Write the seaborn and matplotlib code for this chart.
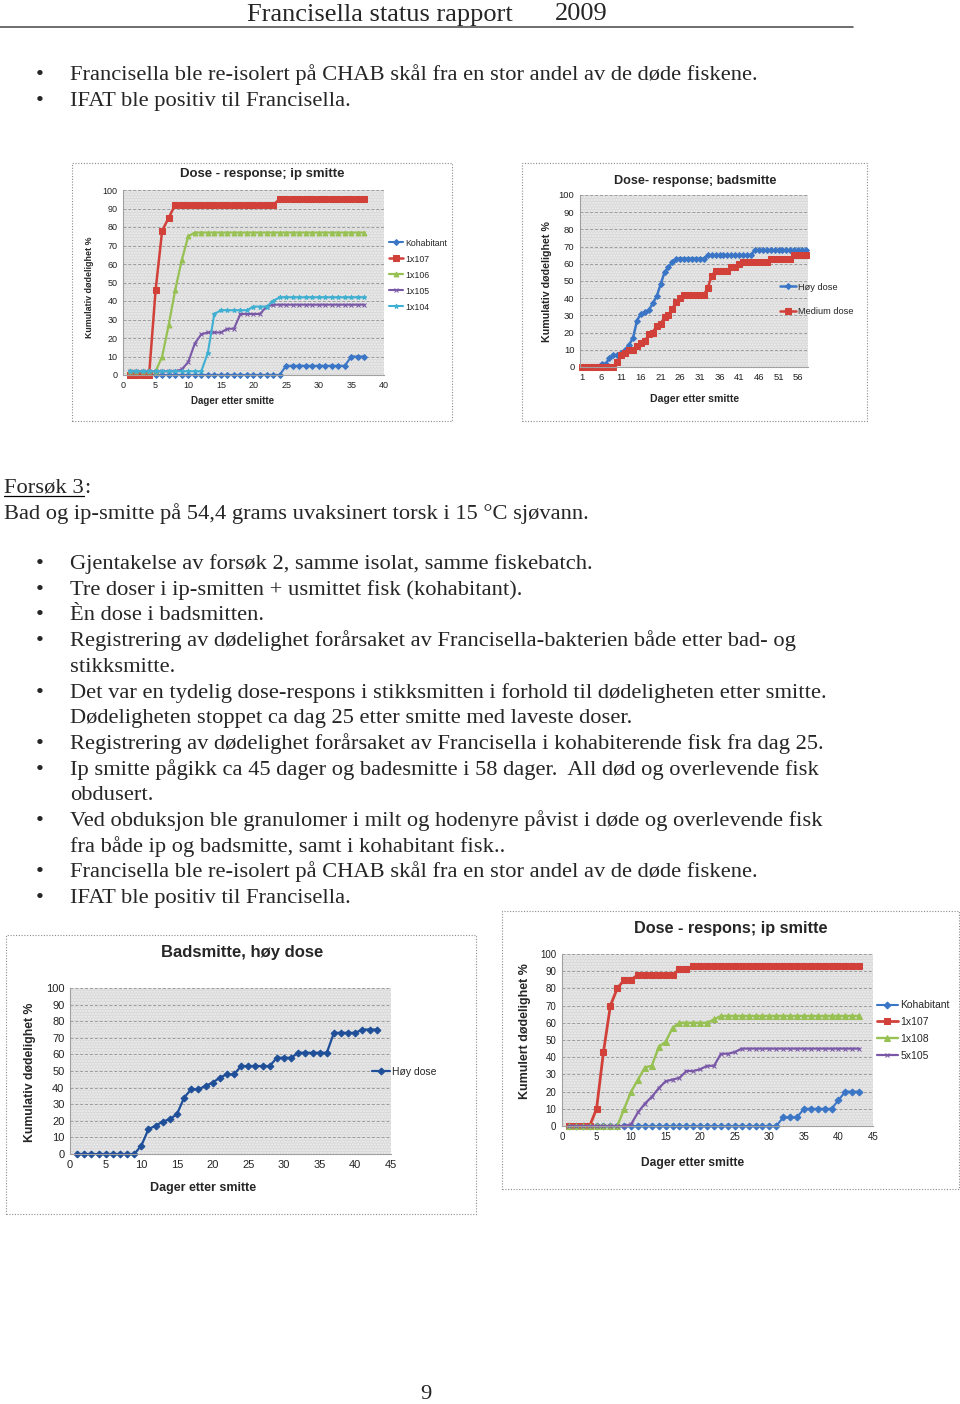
import matplotlib
matplotlib.use("Agg")
import matplotlib.pyplot as plt
from matplotlib.patches import Rectangle
from matplotlib.lines import Line2D
import seaborn as sns

W, H = 960, 1404

# ----------------------------
# data
# ----------------------------
# chart 1: Dose - response; ip smitte (day 1-37)
dag_ip1 = list(range(1, 38))
ip1_kohabitant = [0] * 24 + [5] * 10 + [10] * 3
ip1_1x107 = [0, 0, 0, 0, 46, 78, 85] + [92] * 16 + [95] * 14
ip1_1x106 = [2, 2, 2, 2, 2, 10, 27, 46, 62, 75] + [77] * 27
ip1_1x105 = [2, 2, 2, 2, 2, 2, 2, 2, 3, 7, 17, 22, 23, 23, 23, 25, 25, 33, 33, 33, 33, 37] + [38] * 15
ip1_1x104 = [2] * 12 + [12, 33, 35, 35, 35, 35, 35, 37, 37, 37, 40] + [42] * 14

# chart 2: Dose- response; badsmitte (day 1-58, category axis)
dag_bad = list(range(1, 59))
bad_hoy = [0, 0, 0, 0, 0, 2, 2, 5, 7, 7, 8, 10, 13, 17, 27, 31, 32, 33, 37, 41, 48, 55, 58, 61, 63] \
    + [63] * 7 + [65] * 12 + [68] * 14
bad_medium = [0] * 9 + [3, 7, 8, 10, 10, 12, 14, 15, 19, 20, 24, 25, 29, 30, 34, 38, 40, 42] \
    + [42] * 5 + [46, 53, 56, 56, 56, 56, 58, 58, 60] + [61] * 7 + [63] * 6 + [65] * 4
bad_ticks = [1, 6, 11, 16, 21, 26, 31, 36, 41, 46, 51, 56]

# chart 3: Badsmitte, høy dose (day 1-43)
dag_bad2 = list(range(1, 44))
bad2_hoy = [0] * 9 + [5, 15, 17, 19.5, 21, 24, 34, 39, 39, 41, 43, 46, 48, 48,
                      53, 53, 53, 53, 53, 58, 58, 58, 61, 61, 61, 61, 61,
                      73, 73, 73, 73, 75, 75, 75]

# chart 4: Dose - respons; ip smitte (day 1-43)
dag_ip2 = list(range(1, 44))
ip2_kohabitant = [0] * 31 + [5, 5, 5, 10, 10, 10, 10, 10, 15, 20, 20, 20]
ip2_1x107 = [0, 0, 0, 0, 10, 43, 70, 80, 85, 85] + [88] * 6 + [91, 91] + [93] * 25
ip2_1x108 = [0] * 8 + [10, 20, 27, 34, 35, 46, 49, 57, 60, 60, 60, 60, 60, 62] + [64] * 21
ip2_5x105 = [0] * 9 + [1, 8, 13, 17, 22, 26, 27, 28, 32, 32, 33, 35, 35, 42, 42, 43, 45] + [45] * 17

# page text
header_title = "Francisella status rapport"
header_year = "2009"
top_bullets = ["Francisella ble re-isolert på CHAB skål fra en stor andel av de døde fiskene.",
               "IFAT ble positiv til Francisella."]
section_head = "Forsøk 3"
section_intro = "Bad og ip-smitte på 54,4 grams uvaksinert torsk i 15 °C sjøvann."
bullets = [
    ["Gjentakelse av forsøk 2, samme isolat, samme fiskebatch."],
    ["Tre doser i ip-smitten + usmittet fisk (kohabitant)."],
    ["Èn dose i badsmitten."],
    ["Registrering av dødelighet forårsaket av Francisella-bakterien både etter bad- og",
     "stikksmitte."],
    ["Det var en tydelig dose-respons i stikksmitten i forhold til dødeligheten etter smitte.",
     "Dødeligheten stoppet ca dag 25 etter smitte med laveste doser."],
    ["Registrering av dødelighet forårsaket av Francisella i kohabiterende fisk fra dag 25."],
    ["Ip smitte pågikk ca 45 dager og badesmitte i 58 dager.  All død og overlevende fisk",
     "obdusert."],
    ["Ved obduksjon ble granulomer i milt og hodenyre påvist i døde og overlevende fisk",
     "fra både ip og badsmitte, samt i kohabitant fisk.."],
    ["Francisella ble re-isolert på CHAB skål fra en stor andel av de døde fiskene."],
    ["IFAT ble positiv til Francisella."],
]

BLUE = "#3b76c6"
RED = "#d2403a"
GREEN = "#97c152"
PURPLE = "#7a58a8"
CYAN = "#3fb0d2"
NAVY = "#1f4f99"

sns.set_style("white")
plt.rcParams["font.family"] = ["Liberation Sans", "DejaVu Sans"]
SERIF = ["Liberation Serif", "DejaVu Serif"]

fig = plt.figure(figsize=(W / 100, H / 100), dpi=100)


def ftext(x, y, s, **kw):
    return fig.text(x / W, 1 - y / H, s, **kw)


def px_axes(l, t, r, b):
    return fig.add_axes([l / W, 1 - b / H, (r - l) / W, (b - t) / H])


def frame(l, t, r, b):
    fig.add_artist(Rectangle((l / W, 1 - b / H), (r - l) / W, (b - t) / H,
                             transform=fig.transFigure, fill=False,
                             ls=(0, (1, 1.5)), lw=0.8, ec="#8c8c8c"))


def style_ax(ax, xlim, xticks, tick_fs):
    ax.set_facecolor("#d9d9d9")
    ax.add_patch(Rectangle((0, 0), 1, 1, transform=ax.transAxes, fill=False,
                           hatch="......", ec="#f0f0f0", lw=0, zorder=0))
    ax.set_xlim(*xlim)
    ax.set_ylim(0, 100)
    ax.set_yticks(range(0, 101, 10))
    ax.set_xticks(xticks)
    ax.yaxis.grid(True, color="#9c9c9c", lw=0.7, ls=(0, (3, 2)))
    ax.xaxis.grid(False)
    ax.set_axisbelow(True)
    for s in ["top", "right"]:
        ax.spines[s].set_visible(False)
    for s in ["left", "bottom"]:
        ax.spines[s].set_color("#a0a0a0")
        ax.spines[s].set_linewidth(0.8)
    ax.tick_params(labelsize=tick_fs, colors="#a0a0a0", labelcolor="#222222",
                   length=2, width=0.6, pad=2)
    ax.set(xlabel="", ylabel="")


def series(ax, x, y, color, marker, ms, lw, label):
    sns.lineplot(x=x, y=y, ax=ax, color=color, marker=marker, markersize=ms,
                 markeredgecolor=color, linewidth=lw, label=label, clip_on=False)


def place_legend(ax, x, y, fs, spacing, hlen):
    ax.legend(loc="center left", bbox_to_anchor=(x / W, 1 - y / H),
              bbox_transform=fig.transFigure, frameon=False, fontsize=fs,
              labelspacing=spacing, handlelength=hlen, handletextpad=0.25,
              borderpad=0, borderaxespad=0)


# ---------------- chart 1 ----------------
frame(72, 163, 452, 421)
ax1 = px_axes(123, 190, 384, 375)
series(ax1, dag_ip1, ip1_kohabitant, BLUE, "D", 3, 1.5, "Kohabitant")
series(ax1, dag_ip1, ip1_1x107, RED, "s", 4.5, 1.8, "1x107")
series(ax1, dag_ip1, ip1_1x106, GREEN, "^", 3.5, 1.6, "1x106")
series(ax1, dag_ip1, ip1_1x105, PURPLE, "x", 3, 1.5, "1x105")
series(ax1, dag_ip1, ip1_1x104, CYAN, "*", 3.5, 1.5, "1x104")
style_ax(ax1, (0, 40), range(0, 41, 5), 6.5)
place_legend(ax1, 389, 275, 6.3, 0.8, 1.65)
ftext(262, 174, "Dose - response; ip smitte", fontsize=9.5, fontweight="bold", ha="center", va="center")
ftext(233, 401, "Dager etter smitte", fontsize=7, fontweight="bold", ha="center", va="center")
ftext(90, 287, "Kumulativ dødelighet %", fontsize=6.4, fontweight="bold", rotation=90, ha="center", va="center")

# ---------------- chart 2 ----------------
frame(522, 163, 867, 421)
ax2 = px_axes(580, 195, 808, 367)
series(ax2, dag_bad, bad_hoy, BLUE, "D", 3, 1.8, "Høy dose")
series(ax2, dag_bad, bad_medium, RED, "s", 5, 1.8, "Medium dose")
style_ax(ax2, (0.5, 58.5), bad_ticks, 6.8)
place_legend(ax2, 780, 299.5, 6.7, 1.7, 1.73)
ftext(695, 181, "Dose- response; badsmitte", fontsize=9.1, fontweight="bold", ha="center", va="center")
ftext(695, 399, "Dager etter smitte", fontsize=7.6, fontweight="bold", ha="center", va="center")
ftext(547, 282, "Kumulativ dødelighet %", fontsize=7.7, fontweight="bold", rotation=90, ha="center", va="center")

# ---------------- chart 3 ----------------
frame(6, 935, 476, 1214)
ax3 = px_axes(70, 988, 391, 1154)
series(ax3, dag_bad2, bad2_hoy, NAVY, "D", 3.5, 1.6, "Høy dose")
style_ax(ax3, (0, 45), range(0, 46, 5), 8)
place_legend(ax3, 372, 1072, 7.5, 1.0, 1.7)
ftext(242, 953, "Badsmitte, høy dose", fontsize=12, fontweight="bold", ha="center", va="center")
ftext(203, 1188, "Dager etter smitte", fontsize=9, fontweight="bold", ha="center", va="center")
ftext(30, 1072, "Kumulativ dødelighet %", fontsize=8.8, fontweight="bold", rotation=90, ha="center", va="center")

# ---------------- chart 4 ----------------
frame(502, 911, 959, 1189)
ax4 = px_axes(562, 954, 873, 1126)
series(ax4, dag_ip2, ip2_kohabitant, BLUE, "D", 3.5, 1.5, "Kohabitant")
series(ax4, dag_ip2, ip2_1x107, RED, "s", 5, 2.0, "1x107")
series(ax4, dag_ip2, ip2_1x108, GREEN, "^", 4, 1.7, "1x108")
series(ax4, dag_ip2, ip2_5x105, PURPLE, "x", 2.5, 1.6, "5x105")
style_ax(ax4, (0, 45), range(0, 46, 5), 7)
place_legend(ax4, 877, 1030.5, 7.5, 0.66, 2.0)
ftext(731, 929, "Dose - respons; ip smitte", fontsize=11.7, fontweight="bold", ha="center", va="center")
ftext(693, 1163, "Dager etter smitte", fontsize=8.7, fontweight="bold", ha="center", va="center")
ftext(525, 1031, "Kumulert dødelighet %", fontsize=9, fontweight="bold", rotation=90, ha="center", va="center")

# ---------------- page text ----------------
BODY = 16.2
ftext(247, 20.5, header_title, fontsize=19, family=SERIF, va="baseline")
ftext(555, 20.5, header_year, fontsize=19, family=SERIF, va="baseline")
fig.add_artist(Line2D([0, 853 / W], [1 - 27 / H] * 2, color="#555555", lw=1.2,
                      transform=fig.transFigure))


def bullet_line(y, s, dot=True):
    if dot:
        ftext(36, y + 6, "•", fontsize=BODY, family=SERIF, va="baseline")
    ftext(70, y + 6, s, fontsize=BODY, family=SERIF, va="baseline")


for i, s in enumerate(top_bullets):
    bullet_line(74 + 25.8 * i, s)

head = ftext(4, 493, section_head, fontsize=BODY, family=SERIF, va="baseline")
bb = head.get_window_extent(renderer=fig.canvas.get_renderer())
ftext(bb.x1, 493, ":", fontsize=BODY, family=SERIF, va="baseline")
fig.add_artist(Line2D([bb.x0 / W, bb.x1 / W], [1 - 496 / H] * 2, color="black",
                      lw=0.9, transform=fig.transFigure))
ftext(4, 519, section_intro, fontsize=BODY, family=SERIF, va="baseline")

y = 563
for item in bullets:
    for k, s in enumerate(item):
        bullet_line(y, s, dot=(k == 0))
        y += 25.7

ftext(426, 1399, "9", fontsize=BODY, family=SERIF, ha="center", va="baseline")

fig.savefig("out.png", dpi=100)
